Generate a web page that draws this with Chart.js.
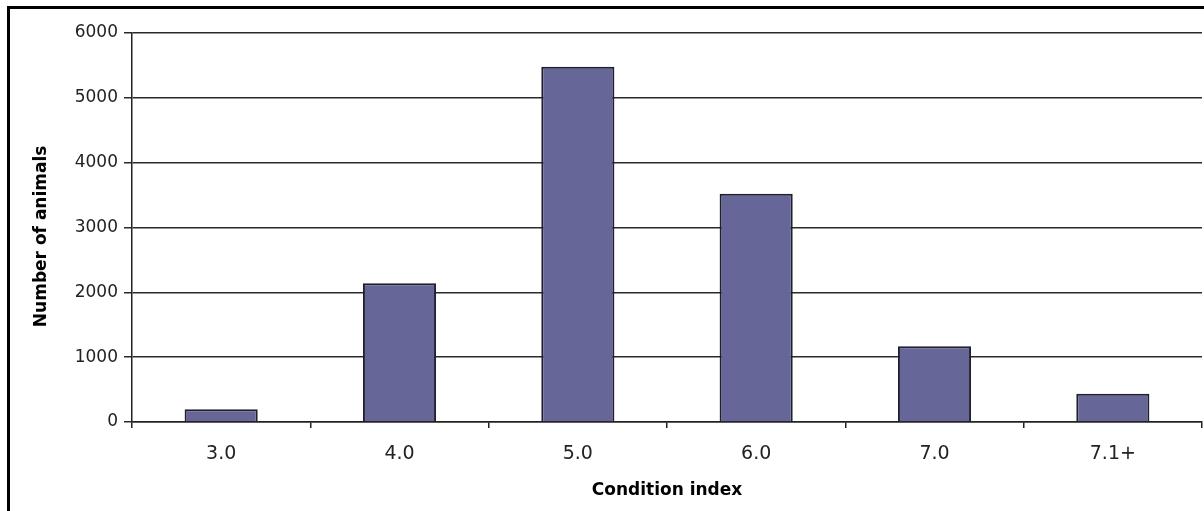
<!DOCTYPE html>
<html>
<head>
<meta charset="utf-8">
<script src="https://cdn.jsdelivr.net/npm/chart.js@4"></script>
<style>
  html, body { margin: 0; padding: 0; background: #fff; overflow: hidden; }
  #wrap { position: relative; width: 1204px; height: 511px; }
  #frame {
    position: absolute; left: 7px; top: 6px; width: 1300px; height: 600px;
    border-left: 3px solid #000; border-top: 3px solid #000; pointer-events: none;
  }
  canvas { display: block; }
</style>
</head>
<body>
<div id="wrap">
  <canvas id="chart" width="1204" height="511"></canvas>
  <div id="frame"></div>
</div>
<script>
// Distribution of animals by condition index
const categories = ['3.0', '4.0', '5.0', '6.0', '7.0', '7.1+'];
const animalCounts = [195, 2140, 5480, 3520, 1170, 435];
const yTickValues = [0, 1000, 2000, 3000, 4000, 5000, 6000];

const PLOT_LEFT = 132;
const PLOT_BOTTOM = 422;

new Chart(document.getElementById('chart'), {
  type: 'bar',
  data: {
    labels: categories,
    datasets: [{
      label: 'Number of animals',
      data: animalCounts,
      backgroundColor: '#666699',
      borderColor: '#1f1f2e',
      borderWidth: 2,
      borderSkipped: 'bottom',
      barPercentage: 0.41,
      categoryPercentage: 1.0
    }]
  },
  options: {
    responsive: false,
    animation: false,
    events: [],
    layout: { padding: { left: 20, right: 2, top: 33, bottom: 0 } },
    plugins: { legend: { display: false }, tooltip: { enabled: false } },
    scales: {
      x: {
        offset: true,
        border: { display: true, color: '#222', width: 1.5 },
        grid: { display: true, drawOnChartArea: false, drawTicks: true, tickLength: 6, color: '#222', lineWidth: 1.5, offset: true },
        ticks: { color: '#222', padding: 15, font: { family: 'DejaVu Sans', size: 19 } },
        title: {
          display: true, text: 'Condition index', color: '#000',
          font: { family: 'DejaVu Sans', size: 17, weight: 'bold' },
          padding: { top: 0, bottom: 10 }
        },
        afterFit(scale) { scale.height = 511 - PLOT_BOTTOM; }
      },
      y: {
        min: 0, max: 6000,
        afterBuildTicks(scale) { scale.ticks = yTickValues.map(v => ({ value: v })); },
        border: { display: true, color: '#222', width: 1.5 },
        grid: { color: '#2a2a2a', lineWidth: 1.5, tickLength: 8, drawTicks: true },
        ticks: {
          color: '#222', padding: 6, font: { family: 'DejaVu Sans', size: 17 },
          callback: (value) => String(value)
        },
        title: {
          display: true, text: 'Number of animals   ', color: '#000',
          font: { family: 'DejaVu Sans', size: 17, weight: 'bold' },
          padding: { top: 11, bottom: 0 }
        },
        afterFit(scale) { scale.width = PLOT_LEFT - 20; }
      }
    }
  }
});
</script>
</body>
</html>
